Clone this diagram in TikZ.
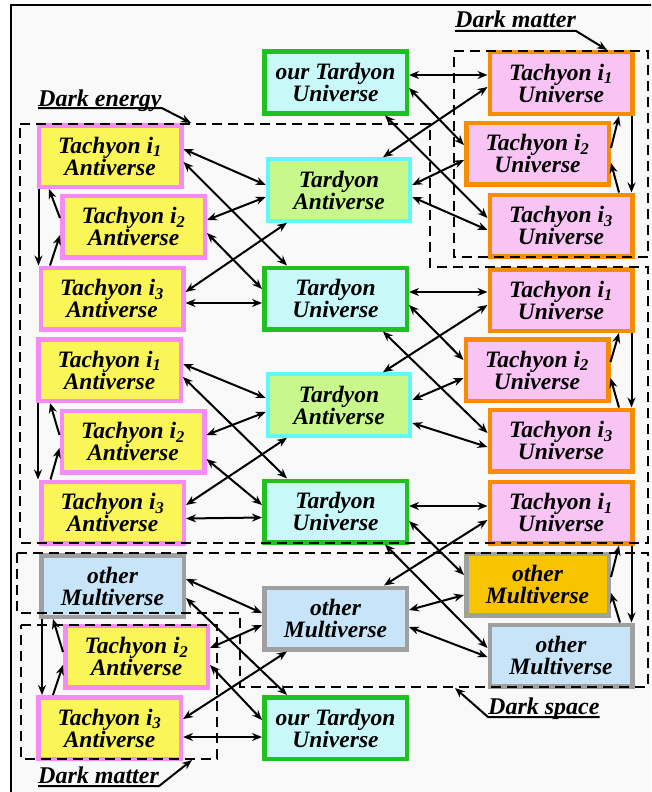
\documentclass[tikz,border=0pt]{standalone}
\usepackage{fontspec}
\setmainfont{Liberation Serif}
\usetikzlibrary{arrows.meta}
\definecolor{bgc}{RGB}{249,249,249}
\definecolor{yelfill}{RGB}{250,246,88}
\definecolor{pinkbd}{RGB}{245,140,245}
\definecolor{cyanfill}{RGB}{200,248,248}
\definecolor{greenbd}{RGB}{32,192,32}
\definecolor{lgreenfill}{RGB}{200,248,140}
\definecolor{cyanbd}{RGB}{96,248,248}
\definecolor{pinkfill}{RGB}{248,196,244}
\definecolor{orangebd}{RGB}{248,140,0}
\definecolor{bluefill}{RGB}{200,228,248}
\definecolor{graybd}{RGB}{160,160,160}
\definecolor{orangefill}{RGB}{248,196,0}
\tikzset{
  box/.style={draw, line width=4.5pt, minimum width=142.5pt, minimum height=61.5pt,
    inner sep=0pt, align=center, font=\bfseries\itshape\fontsize{23.5}{22}\selectfont},
  ant/.style={box, fill=yelfill, draw=pinkbd},
  tuni/.style={box, fill=cyanfill, draw=greenbd},
  tant/.style={box, fill=lgreenfill, draw=cyanbd, line width=4pt},
  uni/.style={box, fill=pinkfill, draw=orangebd},
  omb/.style={box, fill=bluefill, draw=graybd},
  omo/.style={box, fill=orangefill, draw=graybd},
  link/.style={line width=2pt, {Stealth[length=10pt,width=8pt]}-{Stealth[length=10pt,width=8pt]}},
  one/.style={line width=2pt, -{Stealth[length=10pt,width=8pt]}},
  region/.style={line width=2pt, dash pattern=on 10pt off 6pt},
  lab/.style={inner sep=0pt, font=\bfseries\itshape\fontsize{24}{22}\selectfont},
}
\begin{document}
\begin{tikzpicture}[x=1pt,y=-1pt]
\useasboundingbox (0,0) rectangle (651,792);
\clip (0,0) rectangle (651,792);
\fill[white] (0,0) rectangle (651,792);
\draw[line width=2.5pt, fill=bgc] (11,5) rectangle (700,850);

% left column
\node[ant] (A1) at (110,156) {Tachyon i\textsubscript{1}\\Antiverse};
\node[ant] (A2) at (133.5,226.5) {Tachyon i\textsubscript{2}\\Antiverse};
\node[ant] (A3) at (112,298.5) {Tachyon i\textsubscript{3}\\Antiverse};
\node[ant] (A4) at (109.5,370) {Tachyon i\textsubscript{1}\\Antiverse};
\node[ant] (A5) at (133,441.5) {Tachyon i\textsubscript{2}\\Antiverse};
\node[ant] (A6) at (112.5,512.5) {Tachyon i\textsubscript{3}\\Antiverse};
\node[omb] (OML) at (112.5,586) {other\\Multiverse};
\node[ant] (AB2) at (136.5,656.5) {Tachyon i\textsubscript{2}\\Antiverse};
\node[ant] (AB3) at (109.5,728) {Tachyon i\textsubscript{3}\\Antiverse};

% middle column
\node[tuni] (TT) at (335.5,82.5) {our Tardyon\\Universe};
\node[tant] (TA1) at (339,190) {Tardyon\\Antiverse};
\node[tuni] (TU1) at (335.5,298.5) {Tardyon\\Universe};
\node[tant] (TA2) at (339,405) {Tardyon\\Antiverse};
\node[tuni] (TU2) at (335.5,511.5) {Tardyon\\Universe};
\node[omb] (OMM) at (335.5,618.5) {other\\Multiverse};
\node[tuni] (TB) at (335.5,728) {our Tardyon\\Universe};

% right column
\node[uni] (U1) at (561,83) {Tachyon i\textsubscript{1}\\Universe};
\node[uni] (U2) at (537.5,153.5) {Tachyon i\textsubscript{2}\\Universe};
\node[uni] (U3) at (561,225.5) {Tachyon i\textsubscript{3}\\Universe};
\node[uni] (U4) at (561,300) {Tachyon i\textsubscript{1}\\Universe};
\node[uni] (U5) at (537,370) {Tachyon i\textsubscript{2}\\Universe};
\node[uni] (U6) at (561,440.5) {Tachyon i\textsubscript{3}\\Universe};
\node[uni] (U7) at (561,512.5) {Tachyon i\textsubscript{1}\\Universe};
\node[omo] (OMo) at (537.5,584.5) {other\\Multiverse};
\node[omb] (OMb) at (561,655.5) {other\\Multiverse};

% dashed regions
\draw[region] (20,124) -- (430,124) -- (430,267) -- (648,267) -- (648,543) -- (20,543) -- cycle;
\draw[region] (454,51) -- (648,51) -- (648,257) -- (454,257) -- cycle;
\draw[region] (17,553) -- (648,553) -- (648,687) -- (240,687) -- (240,613) -- (17,613) -- cycle;
\draw[region] (21,625) -- (217,625) -- (217,759) -- (21,759) -- cycle;

% group 1 left
\draw[link] ([yshift=7pt]A1.east) -- ([yshift=5pt]TA1.west);
\draw[link] ([yshift=-6pt]A1.east) -- ([xshift=-48.5pt]TU1.north);
\draw[link] ([yshift=6.5pt]A2.east) -- ([yshift=-7pt]TA1.west);
\draw[link] ([yshift=-6.5pt]A2.east) -- ([yshift=9.5pt]TU1.west);
\draw[link] ([yshift=6.5pt]A3.east) -- ([xshift=-52pt]TA1.south);
\draw[link] ([yshift=-4.5pt]A3.east) -- ([yshift=-4.5pt]TU1.west);
\coordinate (cA1) at ([xshift=2pt]A1.south west);
\draw[one] (cA1) -- (cA1 |- A3.north);
\draw[one] ([xshift=-62pt]A3.north) -- ([yshift=-8.5pt]A2.west);
\draw[one] ([yshift=8.5pt]A2.west) -- ([xshift=-61pt]A1.south);

% group 1 right
\draw[link] ([yshift=7.5pt]TT.east) -- ([yshift=8pt]U1.west);
\draw[link] ([yshift=-5.5pt]TT.east) -- ([yshift=8.5pt]U2.west);
\draw[link] ([xshift=44pt]TA1.north) -- ([yshift=-4pt]U1.west);
\draw[link] ([xshift=49.5pt]TT.south) -- ([yshift=7.5pt]U3.west);
\draw[link] ([yshift=5pt]TA1.east) -- ([yshift=-6.5pt]U2.west);
\draw[link] ([yshift=-7pt]TA1.east) -- ([yshift=-4.5pt]U3.west);
\coordinate (cU1) at ([xshift=-3pt]U1.south east);
\draw[one] (cU1) -- (cU1 |- U3.north);
\draw[one] ([xshift=58pt]U3.north) -- ([yshift=-9.5pt]U2.east);
\draw[one] ([yshift=5.5pt]U2.east) -- ([xshift=58pt]U1.south);

% group 2 right
\draw[link] ([yshift=6.5pt]TU1.east) -- ([yshift=8pt]U4.west);
\draw[link] ([yshift=-6.5pt]TU1.east) -- ([yshift=10pt]U5.west);
\draw[link] ([xshift=44pt]TA2.north) -- ([yshift=-5pt]U4.west);
\draw[link] ([xshift=47.5pt]TU1.south) -- ([yshift=7.5pt]U6.west);
\draw[link] ([yshift=5pt]TA2.east) -- ([yshift=-8pt]U5.west);
\draw[link] ([yshift=-18pt]TA2.east) -- ([yshift=-6.5pt]U6.west);
\coordinate (cU4) at ([xshift=-3pt]U4.south east);
\draw[one] (cU4) -- (cU4 |- U6.north);
\draw[one] ([xshift=58pt]U6.north) -- ([yshift=-8pt]U5.east);
\draw[one] ([yshift=8pt]U5.east) -- ([xshift=58pt]U4.south);

% group 2 left
\draw[link] ([yshift=6pt]A4.east) -- ([yshift=7pt]TA2.west);
\draw[link] ([yshift=-7pt]A4.east) -- ([xshift=-48.5pt]TU2.north);
\draw[link] ([yshift=6.5pt]A5.east) -- ([yshift=-7pt]TA2.west);
\draw[link] ([yshift=-17.5pt]A5.east) -- ([yshift=6.5pt]TU2.west);
\draw[link] ([yshift=7.5pt]A6.east) -- ([xshift=-52pt]TA2.south);
\draw[link] ([yshift=-6pt]A6.east) -- ([yshift=-6pt]TU2.west);
\coordinate (cA4) at ([xshift=2pt]A4.south west);
\draw[one] (cA4) -- (cA4 |- A6.north);
\draw[one] ([xshift=-62pt]A6.north) -- ([yshift=-6.5pt]A5.west);
\draw[one] ([yshift=6.5pt]A5.west) -- ([xshift=-59.5pt]A4.south);

% group 3 right
\draw[link] ([yshift=5.5pt]TU2.east) -- ([yshift=6.5pt]U7.west);
\draw[link] ([yshift=-9.5pt]TU2.east) -- ([yshift=9.5pt]OMo.west);
\draw[link] ([xshift=48.5pt]OMM.north) -- ([yshift=-7.5pt]U7.west);
\draw[link] ([xshift=49.5pt]TU2.south) -- ([yshift=7.5pt]OMb.west);
\draw[link] ([yshift=8.5pt]OMM.east) -- ([yshift=-10.5pt]OMo.west);
\draw[link] ([yshift=-8.5pt]OMM.east) -- ([yshift=-1.5pt]OMb.west);
\coordinate (cU7) at ([xshift=-3pt]U7.south east);
\draw[one] (cU7) -- (cU7 |- OMb.north);
\draw[one] ([xshift=59pt]OMb.north) -- ([yshift=-8.5pt]OMo.east);
\draw[one] ([yshift=7.5pt]OMo.east) -- ([xshift=58pt]U7.south);

% group 3 left
\draw[link] ([yshift=7pt]OML.east) -- ([yshift=5.5pt]OMM.west);
\draw[link] ([yshift=-12pt]OML.east) -- ([xshift=-48.5pt]TB.north);
\draw[link] ([yshift=8.5pt]AB2.east) -- ([yshift=-6.5pt]OMM.west);
\draw[link] ([yshift=-8.5pt]AB2.east) -- ([yshift=8pt]TB.west);
\draw[link] ([yshift=9pt]AB3.east) -- ([xshift=-48.5pt]OMM.south);
\draw[link] ([yshift=-9pt]AB3.east) -- ([yshift=-9pt]TB.west);
\coordinate (cOML) at ([xshift=3pt]OML.south west);
\draw[one] (cOML) -- (cOML |- AB3.north);
\draw[one] ([xshift=-56.5pt]AB3.north) -- ([yshift=-8.5pt]AB2.west);
\draw[one] ([yshift=4.5pt]AB2.west) -- ([xshift=-59.5pt]OML.south);

% labels
\node[lab, anchor=base west] (lDE) at (38,106) {Dark energy};
\coordinate (tDE) at (191,123);
\draw[one] ([yshift=-2pt]lDE.base west) -- ([yshift=-2pt]lDE.base east) -- (tDE);

\node[lab, anchor=base west] (lDM) at (455,28) {Dark matter};
\coordinate (tDM) at (607,50);
\draw[one] ([yshift=-3pt]lDM.base west) -- ([yshift=-3pt]lDM.base east) -- (tDM);

\node[lab, anchor=base west] (lDS) at (488,714) {Dark space};
\coordinate (tDS) at (455,688);
\draw[one] ([yshift=-3pt]lDS.base east) -- ([yshift=-3pt]lDS.base west) -- (tDS);

\node[lab, anchor=base west] (lDM2) at (38,783) {Dark matter};
\coordinate (tDM2) at (192,760);
\draw[one] ([yshift=-3pt]lDM2.base west) -- ([yshift=-3pt]lDM2.base east) -- (tDM2);
\end{tikzpicture}
\end{document}
